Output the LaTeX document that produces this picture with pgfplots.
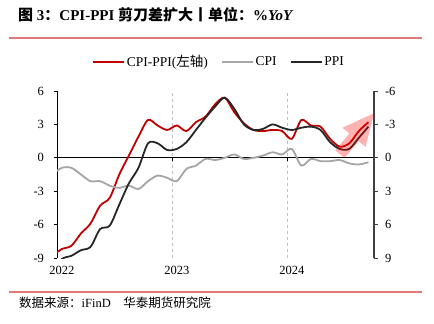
\documentclass[border=0pt]{standalone}
\usepackage{pgfplots}
\pgfplotsset{compat=1.18}
\usepackage{pgfplotstable}
\usepackage{fontspec}
\setmainfont{Liberation Serif}
\newfontfamily\cjk{Noto Sans CJK SC}
\definecolor{cred}{RGB}{192,0,0}
\definecolor{cdark}{RGB}{38,38,38}
\definecolor{cgray}{RGB}{165,165,165}
\definecolor{crule}{RGB}{226,120,120}

\pgfplotstableread{
m cpippi cpi ppi
-1 -8.8 1.5 10.3
0 -8.2 0.9 9.1
1 -7.9 0.9 8.8
2 -6.8 1.5 8.3
3 -5.9 2.1 8.0
4 -4.3 2.1 6.4
5 -3.6 2.5 6.1
6 -1.5 2.7 4.2
7 0.2 2.5 2.3
8 1.9 2.8 0.9
9 3.4 2.1 -1.3
10 2.9 1.6 -1.3
11 2.5 1.8 -0.7
12 2.9 2.1 -0.8
13 2.4 1.0 -1.4
14 3.2 0.7 -2.5
15 3.7 0.1 -3.6
16 4.8 0.2 -4.6
17 5.4 0.0 -5.4
18 4.1 -0.3 -4.4
19 3.1 0.1 -3.0
20 2.5 0.0 -2.5
21 2.4 -0.2 -2.6
22 2.5 -0.5 -3.0
23 2.4 -0.3 -2.7
24 1.7 -0.8 -2.5
25 3.4 0.7 -2.7
26 2.9 0.1 -2.8
27 2.8 0.3 -2.5
28 1.7 0.3 -1.4
29 1.0 0.2 -0.8
30 1.3 0.5 -0.8
31 2.4 0.6 -1.8
32 3.2 0.4 -2.8
}\data

\begin{document}
\begin{tikzpicture}
\path[use as bounding box] (0,0) rectangle (434pt,-324pt);
\node[anchor=west,inner sep=0pt] at (18pt,-15pt) {\fontsize{15}{18}\selectfont\bfseries{\cjk 图}~3{\cjk ：}CPI-PPI~{\cjk 剪刀差扩大丨单位：}\%\textit{YoY}};
\draw[crule, line width=1.2pt] (9pt,-38pt) -- (422pt,-38pt);
\draw[crule, line width=1.2pt] (9pt,-292pt) -- (422pt,-292pt);
\node[anchor=west,inner sep=0pt] at (19pt,-303pt) {\fontsize{12.5}{15}\selectfont{\cjk 数据来源：}iFinD\quad{\cjk 华泰期货研究院}};

\begin{axis}[
 at={(57pt,-91pt)}, anchor=north west, scale only axis,
 width=317pt, height=167pt,
 xmin=0, xmax=33.08, ymin=-9, ymax=6,
 axis x line*=middle, axis y line*=left,
 hide obscured x ticks=false, hide obscured y ticks=false,
 axis line style={black, line width=0.8pt},
 xtick={0,12,24}, xticklabels={2022,2023,2024},
 ytick={-9,-6,-3,0,3,6}, yticklabels={-9,-6,-3,0,3,6},
 tick align=outside, major tick length=3.5pt,
 tick style={black, line width=0.8pt},
 xmajorgrids, major grid style={black!25, dashed, line width=0.6pt},
 ticklabel style={font=\fontsize{12.5}{14}\selectfont},
 xticklabel style={yshift=-101pt, xshift=5pt},
 yticklabel style={xshift=-6pt},
]
\addplot[cred, line width=1.8pt, smooth] table[x expr=\thisrow{m}+0.5, y=cpippi]{\data};
\coordinate (T) at (axis cs:33.08,4.0);
\coordinate (HL) at (axis cs:29.79,2.70);
\coordinate (HR) at (axis cs:32.19,0.98);
\coordinate (SL) at (axis cs:30.51,2.18);
\coordinate (SR) at (axis cs:31.47,1.50);
\coordinate (TL) at (axis cs:29.04,0.67);
\coordinate (TR) at (axis cs:30.00,-0.02);
\end{axis}

\begin{axis}[
 at={(57pt,-91pt)}, anchor=north west, scale only axis,
 width=317pt, height=167pt,
 xmin=0, xmax=33.08, ymin=-6, ymax=9, y dir=reverse,
 axis x line=none, axis y line*=right,
 y axis line style={black!75, line width=1.3pt},
 ytick={-6,-3,0,3,6,9}, yticklabels={-6,-3,0,3,6,9},
 tick align=outside, major tick length=3.5pt,
 ytick style={black!75, line width=1pt},
 ticklabel style={font=\fontsize{12.5}{14}\selectfont},
 yticklabel style={xshift=4pt},
 legend image code/.code={\draw[#1] (0pt,0pt) -- (31pt,0pt);},
 legend style={at={(0.110,1.174)}, anchor=west, draw=none, fill=none,
   legend columns=3, inner sep=0pt, font=\fontsize{13.5}{16}\selectfont,
   /tikz/every even column/.append style={column sep=11pt}},
 legend cell align=left,
]
\addlegendimage{cred, line width=1.8pt}
\addlegendentry{CPI-PPI({\cjk 左轴})}
\addplot[cgray, line width=1.8pt, smooth] table[x expr=\thisrow{m}+0.5, y=cpi]{\data};
\addlegendentry{CPI}
\addplot[cdark, line width=1.8pt, smooth] table[x expr=\thisrow{m}+0.5, y=ppi]{\data};
\addlegendentry{PPI}
\end{axis}
\fill[red, opacity=0.3] (T) -- (HR) -- (SR) -- (TR) -- (TL) -- (SL) -- (HL) -- cycle;
\end{tikzpicture}
\end{document}
